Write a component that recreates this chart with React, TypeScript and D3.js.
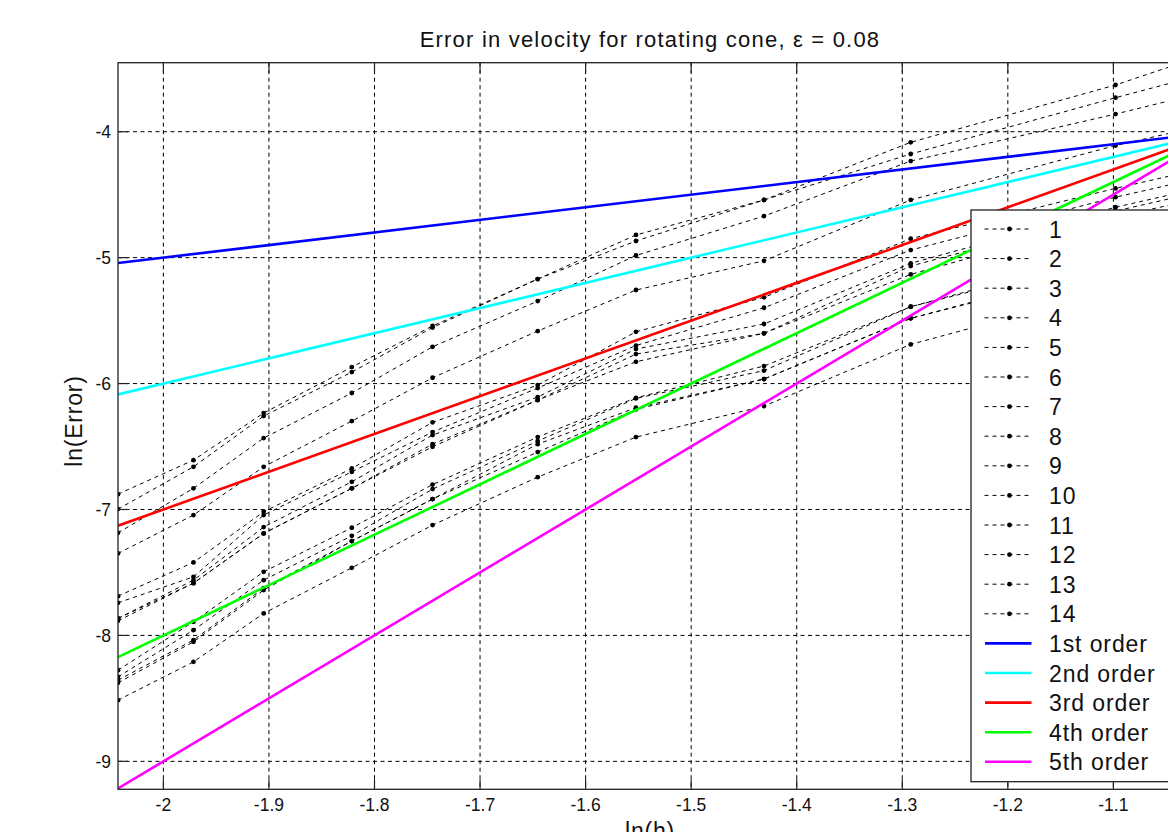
import React from 'react';
import * as d3 from 'd3';

// ln(h) sample positions (columns of the convergence study)
const lnH = [-2.043, -1.9715, -1.905, -1.8215, -1.745, -1.6454, -1.5523, -1.431, -1.292, -1.098, -1.035];

// ln(Error) for each of the 14 runs
const run1 = [-6.878, -6.608, -6.234, -5.869, -5.543, -5.170, -4.820, -4.542, -4.084, -3.629, -3.452];
const run2 = [-6.997, -6.661, -6.258, -5.909, -5.555, -5.170, -4.868, -4.542, -4.177, -3.730, -3.590];
const run3 = [-7.185, -6.832, -6.433, -6.075, -5.708, -5.345, -4.983, -4.670, -4.233, -3.860, -3.730];
const run4 = [-7.349, -7.044, -6.661, -6.298, -5.954, -5.583, -5.257, -5.025, -4.542, -4.110, -3.990];
const run5 = [-7.688, -7.420, -7.018, -6.674, -6.308, -6.012, -5.589, -5.315, -4.850, -4.450, -4.330];
const run6 = [-7.741, -7.535, -7.044, -6.701, -6.385, -6.036, -5.698, -5.398, -4.940, -4.520, -4.400];
const run7 = [-7.865, -7.561, -7.140, -6.780, -6.409, -6.107, -5.726, -5.527, -5.045, -4.600, -4.480];
const run8 = [-7.865, -7.585, -7.190, -6.832, -6.481, -6.131, -5.766, -5.601, -5.067, -4.630, -4.510];
const run9 = [-7.884, -7.585, -7.190, -6.832, -6.502, -6.131, -5.827, -5.601, -5.133, -4.680, -4.560];
const run10 = [-8.276, -7.892, -7.495, -7.145, -6.802, -6.425, -6.113, -5.861, -5.390, -4.950, -4.820];
const run11 = [-8.329, -7.958, -7.561, -7.209, -6.838, -6.457, -6.118, -5.897, -5.390, -4.980, -4.850];
const run12 = [-8.355, -8.037, -7.624, -7.251, -6.917, -6.481, -6.192, -5.964, -5.482, -5.050, -4.920];
const run13 = [-8.376, -8.051, -7.640, -7.251, -6.917, -6.544, -6.205, -5.964, -5.482, -5.070, -4.940];
const run14 = [-8.514, -8.210, -7.825, -7.463, -7.124, -6.743, -6.425, -6.179, -5.689, -5.250, -5.120];

const runs = [run1, run2, run3, run4, run5, run6, run7, run8, run9, run10, run11, run12, run13, run14];
const runNames = ['1', '2', '3', '4', '5', '6', '7', '8', '9', '10', '11', '12', '13', '14'];

// reference slopes: ln(E) = -4 + k (ln h + 1)
const orderNames = ['1st order', '2nd order', '3rd order', '4th order', '5th order'];
const orderSlopes = [1, 2, 3, 4, 5];
const orderColors = ['#0000ff', '#00ffff', '#ff0000', '#00ff00', '#ff00ff'];
const anchorX = -1;
const anchorY = -4;

const xTicks = [-2, -1.9, -1.8, -1.7, -1.6, -1.5, -1.4, -1.3, -1.2, -1.1];
const yTicks = [-9, -8, -7, -6, -5, -4];
const xLimits = [-2.043, -1.035];
const yLimits = [-9.222, -3.452];

const FONT = '"Liberation Sans", Arial, Helvetica, sans-serif';

export default function App() {
  const W = 1168;
  const H = 832;
  const left = 118, right = 1182, top = 62.7, bottom = 789.3;
  const x = d3.scaleLinear().domain(xLimits).range([left, right]);
  const y = d3.scaleLinear().domain(yLimits).range([bottom, top]);
  const line = d3.line<[number, number]>().x(d => x(d[0])).y(d => y(d[1]));

  const legTop = 210, legLeft = 971, legRight = 1180, legBottom = 781.7;
  const rowH = 29.6;
  const row0 = 229;
  const allNames = [...runNames, ...orderNames];

  return (
    <svg width={W} height={H} style={{ position: 'absolute', left: 0, top: 0, background: '#fff' }}
      fontFamily={FONT}>
      <rect x={0} y={0} width={W} height={H} fill="#ffffff" />
      <defs>
        <clipPath id="plotclip">
          <rect x={left} y={top} width={right - left} height={bottom - top} />
        </clipPath>
      </defs>
      {/* grid */}
      <g stroke="#000" strokeWidth={1} strokeDasharray="4,3.5" fill="none">
        {xTicks.map(t => (
          <line key={'gx' + t} x1={x(t)} x2={x(t)} y1={top} y2={bottom} />
        ))}
        {yTicks.map(t => (
          <line key={'gy' + t} x1={left} x2={right} y1={y(t)} y2={y(t)} />
        ))}
      </g>
      {/* data */}
      <g clipPath="url(#plotclip)">
        {runs.map((r, i) => (
          <g key={'run' + i}>
            <path d={line(r.map((v, j) => [lnH[j], v] as [number, number])) || ''}
              fill="none" stroke="#000" strokeWidth={1} strokeDasharray="4,4" />
            {r.map((v, j) => (
              <circle key={j} cx={x(lnH[j])} cy={y(v)} r={2.4} fill="#000" />
            ))}
          </g>
        ))}
        {orderSlopes.map((k, i) => {
          const pts: [number, number][] = [xLimits[0], xLimits[1]].map(xx => [xx, anchorY + k * (xx - anchorX)]);
          return <path key={'ord' + i} d={line(pts) || ''} fill="none" stroke={orderColors[i]} strokeWidth={2.6} />;
        })}
      </g>
      {/* axes box */}
      <rect x={left} y={top} width={right - left} height={bottom - top} fill="none" stroke="#222" strokeWidth={1.3} />
      {/* ticks */}
      <g stroke="#222" strokeWidth={1.2}>
        {xTicks.map(t => (
          <g key={'tx' + t}>
            <line x1={x(t)} x2={x(t)} y1={bottom} y2={bottom - 10} />
            <line x1={x(t)} x2={x(t)} y1={top} y2={top + 10} />
          </g>
        ))}
        {yTicks.map(t => (
          <g key={'ty' + t}>
            <line x1={left} x2={left + 10} y1={y(t)} y2={y(t)} />
            <line x1={right} x2={right - 10} y1={y(t)} y2={y(t)} />
          </g>
        ))}
      </g>
      {/* tick labels */}
      <g fontSize={17.5} fill="#111">
        {xTicks.map(t => (
          <text key={'lx' + t} x={x(t)} y={810.5} textAnchor="middle">{String(t)}</text>
        ))}
        {yTicks.map(t => (
          <text key={'ly' + t} x={111} y={y(t) + 6.3} textAnchor="end">{String(t)}</text>
        ))}
      </g>
      {/* title and axis labels */}
      <text x={650} y={47} textAnchor="middle" fontSize={22} fill="#111" letterSpacing={1.2}>
        Error in velocity for rotating cone, ε = 0.08
      </text>
      <text x={650} y={839} textAnchor="middle" fontSize={23} fill="#111" letterSpacing={0.8}>ln(h)</text>
      <text transform={`translate(82,${421}) rotate(-90)`} textAnchor="middle" fontSize={23} fill="#111" letterSpacing={0.8}>ln(Error)</text>
      {/* legend */}
      <rect x={legLeft} y={legTop} width={legRight - legLeft} height={legBottom - legTop} fill="#fff" stroke="#222" strokeWidth={1.3} />
      {allNames.map((name, i) => {
        const cy = row0 + i * rowH;
        const isRun = i < runNames.length;
        return (
          <g key={'leg' + i}>
            {isRun ? (
              <g>
                <line x1={984.5} x2={1031} y1={cy} y2={cy} stroke="#000" strokeWidth={1} strokeDasharray="4,4" />
                <circle cx={1009.5} cy={cy} r={2.4} fill="#000" />
              </g>
            ) : (
              <line x1={985} x2={1031.5} y1={cy} y2={cy} stroke={orderColors[i - runNames.length]} strokeWidth={2.6} />
            )}
            <text x={1049} y={cy + 8.5} fontSize={23} fill="#111" letterSpacing={0.9}>{name}</text>
          </g>
        );
      })}
    </svg>
  );
}
